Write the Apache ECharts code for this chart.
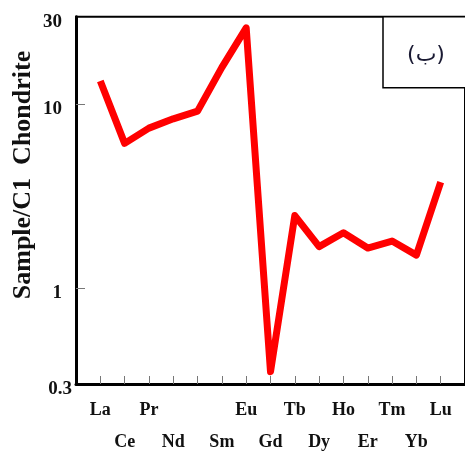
<!DOCTYPE html>
<html>
<head>
<meta charset="utf-8">
<script src="https://cdn.jsdelivr.net/npm/echarts@6/dist/echarts.min.js"></script>
<style>html,body{margin:0;padding:0;background:#fff;}#c{width:465px;height:458px;}</style>
</head>
<body>
<div id="c"></div>
<script>
const elements = ['La','Ce','Pr','Nd','Pm','Sm','Eu','Gd','Tb','Dy','Ho','Er','Tm','Yb','Lu'];
const elementLabels = ['La','Ce','Pr','Nd','','Sm','Eu','Gd','Tb','Dy','Ho','Er','Tm','Yb','Lu'];
const sampleValues = [13.4, 6.13, 7.42, 8.34, 9.18, 15.9, 26.1, 0.35, 2.48, 1.68, 2.0, 1.65, 1.80, 1.51, 3.77];
const yTickLabels = [0.3, 1, 10, 30];
const yTickMarks = [1, 10];
const panelLabel = '(ب)';
const yTitle = 'Sample/C1  Chondrite';

const chart = echarts.init(document.getElementById('c'), null, {renderer: 'canvas'});
const serif = '"Liberation Serif", "Times New Roman", serif';
const labelFont = {fontFamily: serif, fontWeight: 'bold', fontSize: 19, color: '#111'};
const option = {
  animation: false,
  backgroundColor: '#fff',
  grid: {left: 76, right: -6.4, top: 16.7, bottom: 71.3, show: true, borderColor: '#000', borderWidth: 2, backgroundColor: 'transparent'},
  xAxis: {
    type: 'value', min: -1, max: 15, interval: 1,
    axisLine: {show: true, onZero: false, lineStyle: {color: '#000', width: 3}},
    axisTick: {show: true, inside: true, length: 8, lineStyle: {color: '#777', width: 1},
      customValues: elements.map((e, i) => i)},
    splitLine: {show: false},
    axisLabel: {
      customValues: elements.map((e, i) => i),
      margin: 10, fontFamily: serif, fontWeight: 'bold', fontSize: 18, color: '#111', lineHeight: 32,
      formatter: v => { const i = Math.round(v); const n = elementLabels[i] || ''; return i % 2 ? '\n' + n : n; }
    }
  },
  yAxis: {
    type: 'log', logBase: 10, min: 0.3, max: 30,
    axisLine: {show: true, onZero: false, lineStyle: {color: '#000', width: 3}},
    axisTick: {show: true, inside: true, length: 9, lineStyle: {color: '#777', width: 1}, customValues: yTickMarks},
    splitLine: {show: false},
    axisLabel: {customValues: yTickLabels, margin: 14, ...labelFont,
      formatter: v => {
        const s = String(+Number(v).toPrecision(3));
        return Number(v) < 0.5 ? '{low|' + s + '}' : '{n|' + s + '}';
      },
      rich: {
        n: {...labelFont, padding: [10, 0, 0, 0]},
        low: {...labelFont, padding: [10, -10, 0, 0]}
      }
    }
  },
  series: [{
    type: 'line',
    data: sampleValues.map((v, i) => [i, v]),
    showSymbol: false,
    lineStyle: {color: '#ff0000', width: 7, join: 'round'},
    itemStyle: {color: '#ff0000'}
  }],
  graphic: [
    {type: 'text', x: 23, y: 175, rotation: Math.PI / 2,
      style: {text: yTitle, font: 'bold 26px ' + serif, fill: '#111', textAlign: 'center', textVerticalAlign: 'middle'}},
    {type: 'rect', shape: {x: 383, y: 16.7, width: 100, height: 71}, style: {fill: '#fff', stroke: '#000', lineWidth: 1.5}},
    {type: 'text', x: 426, y: 55, style: {text: panelLabel, font: '22px "DejaVu Sans"', fill: '#1a1a33', textAlign: 'center', textVerticalAlign: 'middle'}}
  ]
};
chart.setOption(option);
</script>
</body>
</html>
